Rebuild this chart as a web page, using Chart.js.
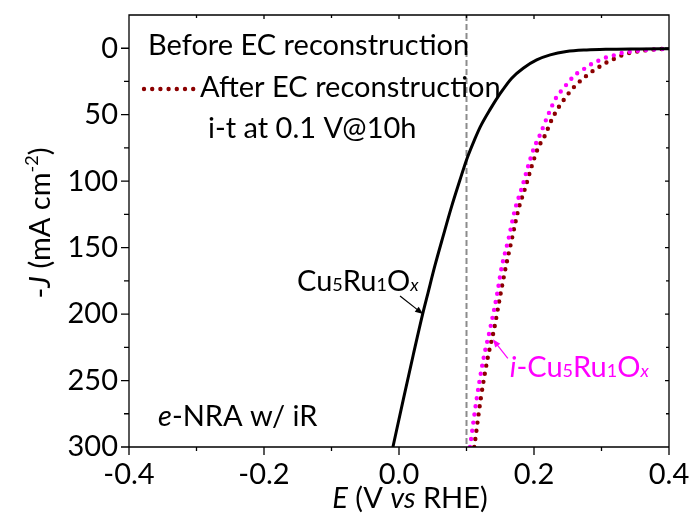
<!DOCTYPE html>
<html>
<head>
<meta charset="utf-8">
<script src="https://cdn.jsdelivr.net/npm/chart.js@4.4.1/dist/chart.umd.min.js"></script>
<style>
  html, body { margin: 0; padding: 0; background: #fff; }
</style>
</head>
<body>
<canvas id="lsvChart" width="694" height="522"></canvas>
<script>
// LSV curves, potential E (V vs RHE) against -J (mA cm-2)
const beforeE = [-0.009, 0.0065, 0.021, 0.035, 0.043, 0.053, 0.0656, 0.078, 0.0904, 0.100, 0.1126, 0.12, 0.135, 0.150, 0.167, 0.184, 0.204, 0.224, 0.248, 0.278, 0.308, 0.357, 0.40];
const beforeJ = [300, 264, 231, 200, 184, 164, 141, 119, 99, 84, 68, 59.5, 46, 34, 22.5, 15, 8.8, 5, 2.5, 1.3, 0.8, 0.5, 0.3];

const afterE = [0.1115, 0.121, 0.131, 0.141, 0.150, 0.158, 0.167, 0.177, 0.187, 0.197, 0.206, 0.216, 0.226, 0.237, 0.246, 0.256, 0.266, 0.277, 0.288, 0.299, 0.310, 0.321, 0.332, 0.344, 0.356, 0.367, 0.378, 0.39, 0.40];
const afterJ = [300, 264, 234, 211, 186, 165, 144, 121, 105, 88, 75, 65.8, 54, 44, 37.5, 31, 25.8, 21, 16.8, 13.3, 10, 7.5, 5, 3.3, 2.3, 1.5, 1, 0.5, 0.3];

const itE = [0.1052, 0.115, 0.125, 0.135, 0.145, 0.152, 0.162, 0.172, 0.182, 0.192, 0.200, 0.209, 0.221, 0.233, 0.244, 0.253, 0.264, 0.276, 0.287, 0.298, 0.310, 0.321, 0.332, 0.344, 0.356, 0.37, 0.385, 0.40];
const itJ = [300, 264, 234, 211, 186, 165, 144, 121, 105, 87.5, 75, 65, 50, 37, 30, 24.3, 18.8, 15, 11.3, 8.8, 6.3, 5, 3.3, 2.5, 1.8, 1.2, 0.7, 0.4];

const xTicks = [-0.4, -0.2, 0.0, 0.2, 0.4];
const xMinor = [-0.3, -0.1, 0.1, 0.3];
const yTicks = [0, 50, 100, 150, 200, 250, 300];
const yMinor = [25, 75, 125, 175, 225, 275];
const refPotential = 0.1;

const legendRows = ['Before EC reconstruction', 'After EC reconstruction', 'i-t at 0.1 V@10h'];

const FONT = 'Lato';
const FS = 29;

function toPoints(xs, ys) {
    return xs.map((x, i) => ({ x: x, y: ys[i] }));
}

// text with italic / subscript / superscript pieces: [text, flags]
function drawRich(ctx, segs, x, y, size, align) {
    const parts = segs.map(([t, f = '']) => {
        const small = f.includes('s') || f.includes('u');
        const sz = small ? Math.round(size * 0.62) : size;
        const font = (f.includes('i') ? 'italic ' : '') + sz + 'px ' + FONT;
        ctx.font = font;
        return { t, f, font, w: ctx.measureText(t).width };
    });
    const total = parts.reduce((a, p) => a + p.w, 0);
    let cx = align === 'center' ? x - total / 2 : x;
    ctx.textAlign = 'left';
    ctx.textBaseline = 'alphabetic';
    parts.forEach(p => {
        ctx.font = p.font;
        const dy = p.f.includes('u') ? -size * 0.42 : 0;
        ctx.fillText(p.t, cx, y + dy);
        cx += p.w;
    });
}

function arrow(ctx, x1, y1, x2, y2, color) {
    const a = Math.atan2(y2 - y1, x2 - x1);
    const hl = 8, hw = 3.2;
    ctx.save();
    ctx.setLineDash([]);
    ctx.strokeStyle = color;
    ctx.fillStyle = color;
    ctx.lineWidth = 1.2;
    ctx.beginPath();
    ctx.moveTo(x1, y1);
    ctx.lineTo(x2 - Math.cos(a) * hl * 0.8, y2 - Math.sin(a) * hl * 0.8);
    ctx.stroke();
    ctx.beginPath();
    ctx.moveTo(x2, y2);
    ctx.lineTo(x2 - Math.cos(a) * hl - Math.sin(a) * hw, y2 - Math.sin(a) * hl + Math.cos(a) * hw);
    ctx.lineTo(x2 - Math.cos(a) * hl + Math.sin(a) * hw, y2 - Math.sin(a) * hl - Math.cos(a) * hw);
    ctx.closePath();
    ctx.fill();
    ctx.restore();
}

const dotted = {
    borderWidth: 4.4,
    borderDash: [0, 8.2],
    borderCapStyle: 'round'
};

// dashed marker at the i-t holding potential, under the curves
const refLine = {
    id: 'refLine',
    beforeDatasetsDraw(chart) {
        const { ctx, chartArea: a, scales: { x } } = chart;
        const px = x.getPixelForValue(refPotential);
        ctx.save();
        ctx.strokeStyle = '#8c8c8c';
        ctx.lineWidth = 2;
        ctx.setLineDash([6, 3]);
        ctx.beginPath();
        ctx.moveTo(px, a.top);
        ctx.lineTo(px, a.bottom);
        ctx.stroke();
        ctx.restore();
    }
};

// frame, ticks, titles, legend and labels
const decorations = {
    id: 'decorations',
    afterDraw(chart) {
        const { ctx, chartArea: a, scales: { x, y } } = chart;
        ctx.save();
        ctx.setLineDash([]);
        ctx.lineCap = 'butt';
        ctx.strokeStyle = '#000';
        ctx.fillStyle = '#000';
        ctx.lineWidth = 1.3;

        ctx.beginPath();
        ctx.moveTo(a.left, a.top);
        ctx.lineTo(a.right, a.top);
        ctx.lineTo(a.right, a.bottom);
        ctx.lineTo(a.left, a.bottom);
        ctx.closePath();
        xTicks.forEach(v => {
            const p = x.getPixelForValue(v);
            ctx.moveTo(p, a.bottom); ctx.lineTo(p, a.bottom + 8);
            ctx.moveTo(p, a.top); ctx.lineTo(p, a.top + 4);
        });
        xMinor.forEach(v => {
            const p = x.getPixelForValue(v);
            ctx.moveTo(p, a.bottom); ctx.lineTo(p, a.bottom + 4);
            ctx.moveTo(p, a.top); ctx.lineTo(p, a.top + 3);
        });
        yTicks.forEach(v => {
            const p = y.getPixelForValue(v);
            ctx.moveTo(a.left, p); ctx.lineTo(a.left - 8, p);
            ctx.moveTo(a.right, p); ctx.lineTo(a.right - 4, p);
        });
        yMinor.forEach(v => {
            const p = y.getPixelForValue(v);
            ctx.moveTo(a.left, p); ctx.lineTo(a.left - 5, p);
            ctx.moveTo(a.right, p); ctx.lineTo(a.right - 3, p);
        });
        ctx.stroke();

        // axis titles
        drawRich(ctx, [['E', 'i'], [' (V '], ['vs', 'i'], [' RHE)']], 410, 508, FS, 'center');
        ctx.save();
        ctx.translate(50, 223);
        ctx.rotate(-Math.PI / 2);
        drawRich(ctx, [['-'], ['J', 'i'], [' (mA cm'], ['-2', 'u'], [')']], 0, 0, FS, 'center');
        ctx.restore();

        // legend
        drawRich(ctx, [[legendRows[0]]], a.left + 19, a.top + 40, FS);
        ctx.save();
        ctx.strokeStyle = '#8b0000';
        ctx.lineWidth = dotted.borderWidth;
        ctx.lineCap = 'round';
        ctx.setLineDash(dotted.borderDash);
        ctx.beginPath();
        ctx.moveTo(a.left + 15, a.top + 74);
        ctx.lineTo(a.left + 65, a.top + 74);
        ctx.stroke();
        ctx.restore();
        drawRich(ctx, [[legendRows[1]]], a.left + 71, a.top + 82, FS);
        drawRich(ctx, [[legendRows[2]]], a.left + 79, a.top + 123, FS);

        // sample labels
        drawRich(ctx, [['e', 'i'], ['-NRA w/ iR']], a.left + 29, 426, FS);

        const bx = x.getPixelForValue(0.0356), by = y.getPixelForValue(200);
        arrow(ctx, bx - 23, by - 18, bx, by, '#000');
        drawRich(ctx, [['Cu'], ['5', 's'], ['Ru'], ['1', 's'], ['O'], ['x', 'si']], bx - 126, by - 23, FS);

        const mx = x.getPixelForValue(0.139), my = y.getPixelForValue(219);
        ctx.fillStyle = '#ff00ff';
        arrow(ctx, mx + 15, my + 19, mx, my, '#ff00ff');
        drawRich(ctx, [['i', 'i'], ['-Cu'], ['5', 's'], ['Ru'], ['1', 's'], ['O'], ['x', 'si']], mx + 17, my + 38, FS);
        ctx.restore();
    }
};

// keep the plot box fixed: no label overhang padding on the axes
function noOverhang(s) {
    s.paddingTop = 0;
    s.paddingBottom = 0;
    s.paddingLeft = 0;
    s.paddingRight = 0;
}

const ctx = document.getElementById('lsvChart').getContext('2d');
new Chart(ctx, {
    type: 'scatter',
    data: {
        datasets: [
            {
                label: legendRows[0],
                data: toPoints(beforeE, beforeJ),
                showLine: true,
                borderColor: '#000000',
                borderWidth: 3,
                pointRadius: 0,
                cubicInterpolationMode: 'monotone'
            },
            Object.assign({
                label: legendRows[2],
                data: toPoints(itE, itJ),
                showLine: true,
                borderColor: '#ff00ff',
                pointRadius: 0,
                cubicInterpolationMode: 'monotone'
            }, dotted),
            Object.assign({
                label: legendRows[1],
                data: toPoints(afterE, afterJ),
                showLine: true,
                borderColor: '#8b0000',
                pointRadius: 0,
                cubicInterpolationMode: 'monotone'
            }, dotted)
        ]
    },
    options: {
        responsive: false,
        animation: false,
        devicePixelRatio: 1,
        layout: { padding: { top: 15, right: 25, left: 0, bottom: 0 } },
        plugins: {
            legend: { display: false },
            tooltip: { enabled: false }
        },
        scales: {
            x: {
                type: 'linear',
                min: -0.4,
                max: 0.4,
                afterBuildTicks: s => { s.ticks = xTicks.map(v => ({ value: v })); },
                afterFit: s => { s.height = 75; noOverhang(s); },
                grid: { display: false, drawTicks: false },
                border: { display: false },
                ticks: {
                    autoSkip: false,
                    maxRotation: 0,
                    padding: 10,
                    color: '#000',
                    font: { family: FONT, size: FS },
                    callback: v => v.toFixed(1)
                }
            },
            y: {
                type: 'linear',
                reverse: true,
                min: -25,
                max: 300,
                afterBuildTicks: s => { s.ticks = yTicks.map(v => ({ value: v })); },
                afterFit: s => { s.width = 129; noOverhang(s); },
                grid: { display: false, drawTicks: false },
                border: { display: false },
                ticks: {
                    autoSkip: false,
                    padding: 11,
                    color: '#000',
                    font: { family: FONT, size: FS }
                }
            }
        }
    },
    plugins: [refLine, decorations]
});
</script>
</body>
</html>
